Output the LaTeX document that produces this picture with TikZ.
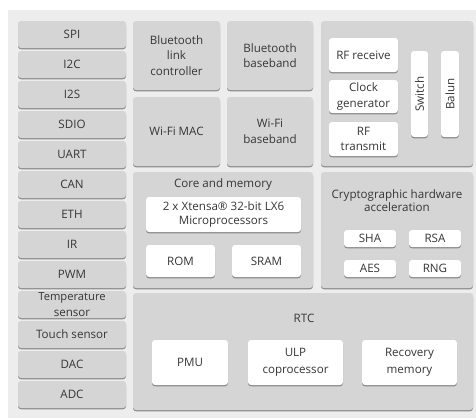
\documentclass[tikz,border=0pt]{standalone}
\usepackage{fontspec}
\setmainfont{Open Sans}
\usetikzlibrary{shadows}

\definecolor{bgcol}{HTML}{EDEDED}
\definecolor{boxcol}{HTML}{D5D5D5}
\definecolor{txtcol}{HTML}{363636}

\tikzset{
  blk/.style={rounded corners=3pt, inner sep=0pt, align=center, text=txtcol,
    font=\fontsize{11.6}{15.5}\selectfont,
    drop shadow={shadow xshift=0pt, shadow yshift=-1.3pt, fill=black!55, opacity=.8}},
  periph/.style={blk, fill=boxcol, minimum width=108pt, minimum height=27pt},
  panel/.style={blk, fill=boxcol},
  unit/.style={blk, fill=white},
  lbl/.style={inner sep=0pt, align=center, text=txtcol, font=\fontsize{11.6}{15.5}\selectfont}
}

\begin{document}
\begin{tikzpicture}[x=1pt, y=-1pt]
    \useasboundingbox (0,0) rectangle (476,418);
    \fill[bgcol] (8,10) rectangle (476,418);

    \foreach \name [count=\i from 0] in {SPI, I2C, I2S, SDIO, UART, CAN, ETH, IR, PWM,
        {\fontsize{11.2}{11.5}\selectfont Temperature\\sensor}, Touch sensor, DAC, ADC}
      \node [periph] (p\i) at (72, 34.5+30*\i) {\name};

    \node [panel, minimum width=87pt, minimum height=69pt] (btlink) at (176.5,55.5) {Bluetooth\\link\\controller};
    \node [panel, minimum width=86pt, minimum height=69pt] (btbase) at (270,55.5) {Bluetooth\\baseband};
    \node [panel, minimum width=87pt, minimum height=69pt] (wifimac) at (176.5,131.5) {Wi-Fi MAC};
    \node [panel, minimum width=86pt, minimum height=69pt] (wifibase) at (270,131.5) {Wi-Fi\\baseband};

    \node [panel, minimum width=152pt, minimum height=145pt] (rf) at (397,93.5) {};
    \node [unit, minimum width=69pt, minimum height=34pt] (rfrx) at (363.5,55) {RF receive};
    \node [unit, minimum width=69pt, minimum height=33pt] (clk) at (363.5,96.5) {Clock\\generator};
    \node [unit, minimum width=69pt, minimum height=34pt] (rftx) at (363.5,139) {RF\\transmit};
    \node [unit, minimum width=17pt, minimum height=86pt] (sw) at (419.5,94) {};
    \node [lbl, rotate=90] at (sw.center) {Switch};
    \node [unit, minimum width=18pt, minimum height=86pt] (balun) at (450,94) {};
    \node [lbl, rotate=90] at (balun.center) {Balun};

    \node [panel, minimum width=180pt, minimum height=116pt] (core) at (223,230) {};
    \node [lbl] (coretitle) at (223,184.5) {Core and memory};
    \node [unit, minimum width=155pt, minimum height=35pt, font=\fontsize{11.6}{14}\selectfont] (cpu) at (223.5,214.5) {2 x Xtensa® 32-bit LX6\\Microprocessors};
    \node [unit, minimum width=69pt, minimum height=32pt] (rom) at (180.5,261) {ROM};
    \node [unit, minimum width=69pt, minimum height=32pt] (sram) at (266.5,261) {SRAM};

    \node [panel, minimum width=152pt, minimum height=116pt] (crypto) at (397,230) {};
    \node [lbl, font=\fontsize{11.6}{13}\selectfont] (cryptotitle) at (397,201) {Cryptographic hardware\\acceleration};
    \node [unit, minimum width=52pt, minimum height=17pt] (sha) at (370,238.5) {SHA};
    \node [unit, minimum width=52pt, minimum height=17pt] (rsa) at (435,238.5) {RSA};
    \node [unit, minimum width=52pt, minimum height=17pt] (aes) at (370,268.5) {AES};
    \node [unit, minimum width=52pt, minimum height=17pt] (rng) at (435,268.5) {RNG};

    \node [panel, minimum width=340pt, minimum height=117pt] (rtc) at (303,351.5) {};
    \node [lbl] (rtctitle) at (304,318) {RTC};
    \node [unit, minimum width=76pt, minimum height=45pt] (pmu) at (190,362.5) {PMU};
    \node [unit, minimum width=95pt, minimum height=45pt, font=\fontsize{11.6}{17}\selectfont] (ulp) at (295.5,362.5) {ULP\\coprocessor};
    \node [unit, minimum width=95pt, minimum height=45pt, font=\fontsize{11.6}{17}\selectfont] (recmem) at (409.5,362.5) {Recovery\\memory};
\end{tikzpicture}
\end{document}
